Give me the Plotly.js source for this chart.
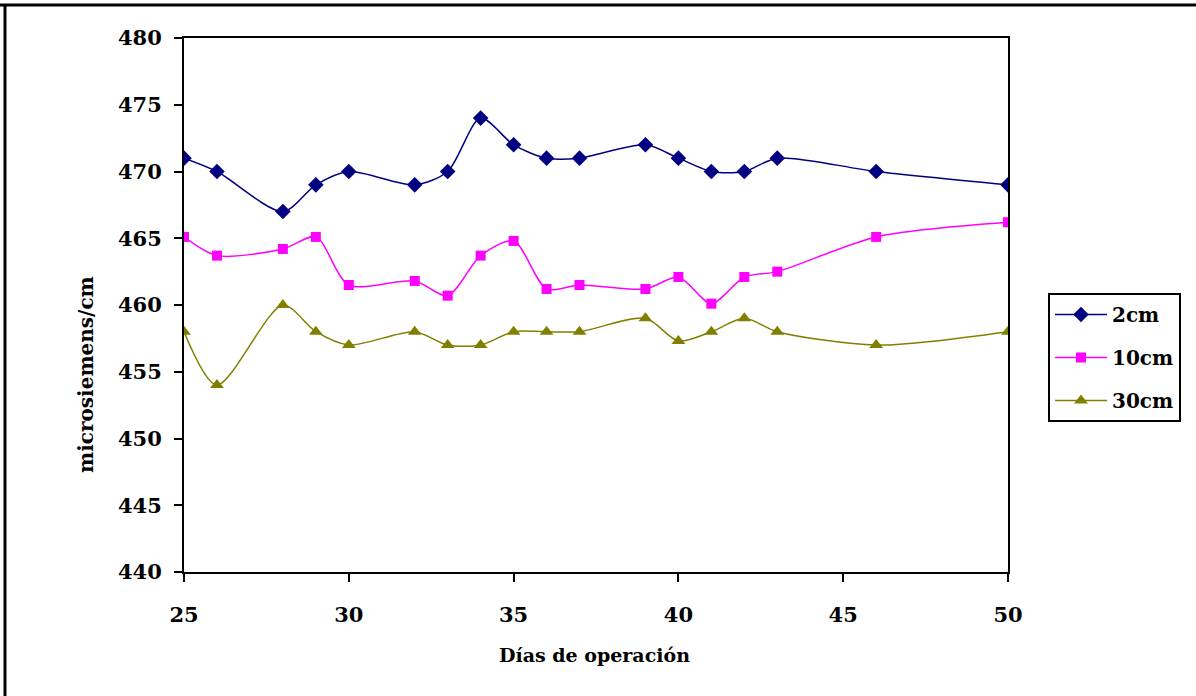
<!DOCTYPE html>
<html>
<head>
<meta charset="utf-8">
<script src="https://cdn.plot.ly/plotly-3.0.1.min.js"></script>
<style>
  html, body { margin: 0; padding: 0; background: #ffffff; }
  #chart { width: 1196px; height: 696px; }
</style>
</head>
<body>
<div id="chart"></div>
<script>
// Days of operation (x values)
const dias2cm  = [25, 26, 28, 29, 30, 32, 33, 34, 35, 36, 37, 39, 40, 41, 42, 43, 46, 50];
const dias10cm = [25, 26, 28, 29, 30, 32, 33, 34, 35, 36, 37, 39, 40, 41, 42, 43, 46, 50];
const dias30cm = [25, 26, 28, 29, 30, 32, 33, 34, 35, 36, 37, 39, 40, 41, 42, 43, 46, 50];

// Conductivity (microsiemens/cm)
const valores2cm  = [471, 470, 467, 469, 470, 469, 470, 474, 472, 471, 471, 472, 471, 470, 470, 471, 470, 469];
const valores10cm = [465.1, 463.7, 464.2, 465.1, 461.5, 461.8, 460.7, 463.7, 464.8, 461.2, 461.5, 461.2, 462.1, 460.1, 462.1, 462.5, 465.1, 466.2];
const valores30cm = [458, 454, 460, 458, 457, 458, 457, 457, 458, 458, 458, 459, 457.3, 458, 459, 458, 457, 458];

const seriesNames = ['2cm', '10cm', '30cm'];
const xTickVals = [25, 30, 35, 40, 45, 50];
const yTickVals = [440, 445, 450, 455, 460, 465, 470, 475, 480];
const xTitle = 'Días de operación';
const yTitle = 'microsiemens/cm';

const FONT = '"DejaVu Serif", "Liberation Serif", serif';

const traces = [
  {
    x: dias2cm, y: valores2cm, name: seriesNames[0], legendgroup: 'a',
    type: 'scatter', mode: 'lines+markers',
    line: { color: '#000080', width: 1.5, shape: 'spline', smoothing: 0.8 },
    marker: { symbol: 'diamond', size: 12, color: '#000080' }
  },
  {
    x: dias10cm, y: valores10cm, name: seriesNames[1], legendgroup: 'b',
    type: 'scatter', mode: 'lines+markers',
    line: { color: '#FF00FF', width: 1.5, shape: 'spline', smoothing: 0.8 },
    marker: { symbol: 'square', size: 10, color: '#FF00FF' }
  },
  {
    x: dias30cm, y: valores30cm, name: seriesNames[2], legendgroup: 'c',
    type: 'scatter', mode: 'lines+markers',
    line: { color: '#808000', width: 1.5, shape: 'spline', smoothing: 0.8 },
    marker: { symbol: 'triangle-up', size: 12, color: '#808000' }
  }
];

// plot area: x 184..1008, y 38..572
const L = 184, R = 1008, T = 38, B = 572;
const px = v => (v - L) / (R - L);
const py = v => (B - v) / (B - T);

const layout = {
  width: 1196, height: 696,
  margin: { l: L, r: 1196 - R, t: T, b: 696 - B, pad: 0 },
  paper_bgcolor: '#ffffff', plot_bgcolor: '#ffffff',
  font: { family: FONT, color: '#000000' },
  showlegend: true,
  xaxis: {
    range: [25, 50], tickvals: xTickVals, ticktext: xTickVals.map(String),
    showgrid: false, zeroline: false,
    showline: true, linecolor: '#000000', linewidth: 2, mirror: true,
    ticks: 'outside', ticklen: 8, tickwidth: 2, tickcolor: '#000000',
    ticklabelstandoff: 15,
    tickfont: { family: FONT, size: 21, color: '#000000', weight: 'bold' }
  },
  yaxis: {
    range: [440, 480], tickvals: yTickVals, ticktext: yTickVals.map(String),
    showgrid: false, zeroline: false,
    showline: true, linecolor: '#000000', linewidth: 2, mirror: true,
    ticks: 'outside', ticklen: 8, tickwidth: 2, tickcolor: '#000000',
    ticklabelstandoff: 8,
    tickfont: { family: FONT, size: 21, color: '#000000', weight: 'bold' }
  },
  legend: {
    x: px(1048), y: py(293), xanchor: 'left', yanchor: 'top',
    bgcolor: '#ffffff', bordercolor: '#000000', borderwidth: 2,
    font: { family: FONT, size: 20, color: '#000000', weight: 'bold' },
    tracegroupgap: 14, itemwidth: 52
  },
  annotations: [
    {
      text: xTitle, xref: 'paper', yref: 'paper',
      x: px(594), y: py(655), xanchor: 'center', yanchor: 'middle',
      showarrow: false,
      font: { family: FONT, size: 19, color: '#000000', weight: 'bold' }
    },
    {
      text: yTitle, xref: 'paper', yref: 'paper', textangle: -90,
      x: px(86), y: py(375), xanchor: 'center', yanchor: 'middle',
      showarrow: false,
      font: { family: FONT, size: 20, color: '#000000', weight: 'bold' }
    }
  ],
  shapes: [
    { type: 'line', xref: 'paper', yref: 'paper', x0: px(0), x1: px(1196), y0: py(5), y1: py(5),
      line: { color: '#000000', width: 3 } },
    { type: 'line', xref: 'paper', yref: 'paper', x0: px(5), x1: px(5), y0: py(4), y1: py(696),
      line: { color: '#000000', width: 3 } }
  ]
};

Plotly.newPlot('chart', traces, layout, { displayModeBar: false, staticPlot: true });
</script>
</body>
</html>
